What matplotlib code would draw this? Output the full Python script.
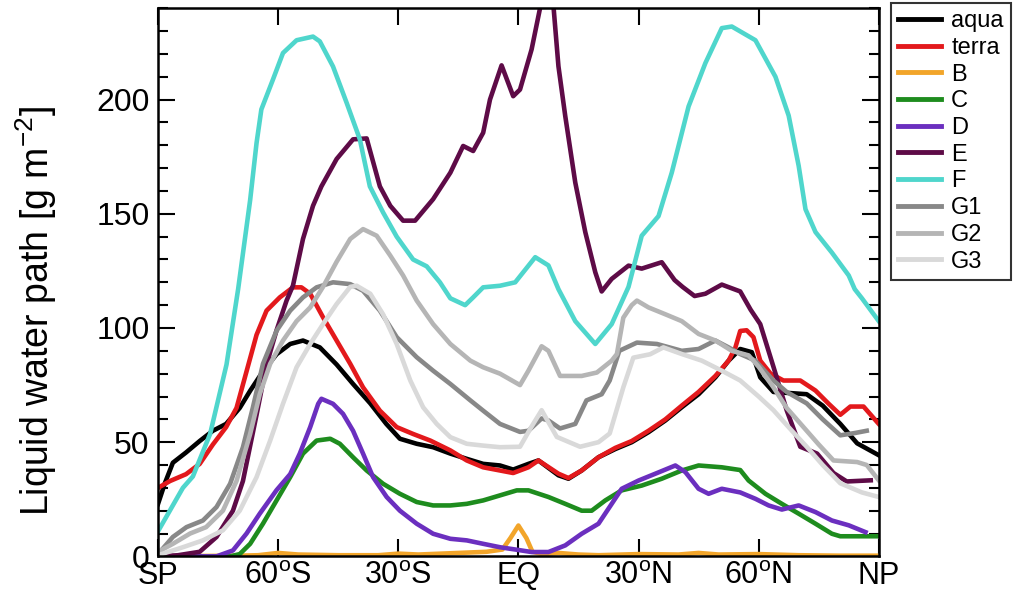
import numpy as np
import matplotlib
matplotlib.use("Agg")
import matplotlib.pyplot as plt
from matplotlib.ticker import MultipleLocator

plt.rcParams['font.family'] = ['Liberation Sans', 'DejaVu Sans']
plt.rcParams['mathtext.fontset'] = 'custom'
plt.rcParams['mathtext.rm'] = 'Liberation Sans'
plt.rcParams['mathtext.it'] = 'Liberation Sans:italic'

# zonal mean liquid water path (latitude in degrees)
aqua_lat = [-90, -88.3, -86.3, -83, -79.6, -76.3, -73, -69.6, -67, -63.8, -60.4, -57, -53.8, -49.6,
            -45.4, -41.3, -37, -33, -29.6, -25.4, -21.3, -17, -12.9, -8.8, -4.6, -1.3, 2.5, 5, 10,
            12.5, 15.8, 20, 24.2, 28.3, 32.5, 36.7, 40.8, 45, 49.2, 52.5, 55.4, 58.3, 60.4, 63.7, 72,
            76, 80.4, 84.6, 90]
aqua = [23, 32, 41, 45.5, 50.5, 55, 58, 65, 72.5, 81, 88.5, 93, 94.5, 91.5,
        84, 75.5, 67, 58, 51.5, 49.3, 47.8, 45, 42.7, 40.5, 39.8, 38, 40.5, 42, 35.5,
        34, 37.6, 43.4, 47, 50, 54.4, 59.5, 65.3, 71, 78.4, 85.7, 90.8, 89.4, 78.4, 72, 71,
        66, 58, 49.5, 44.3]

terra_lat = [-90, -87, -83, -79.6, -76.3, -73, -70.4, -67.9, -65.4, -62.9, -59.6, -56.3, -54.2, -52,
             -48.8, -45.4, -42, -38.8, -34.6, -30.4, -26.3, -22, -17, -12.9, -8.8, -4.6, -1.3, 2.5,
             5, 10, 12.5, 15.8, 20, 24.2, 28.3, 32.5, 36.7, 40.8, 45, 49.2, 52.5, 54.2, 55.4, 57,
             58.7, 60.4, 63, 66.2, 70.4, 74.2, 77.5, 80.4, 82.9, 86.2, 88, 90]
terra = [30, 33, 36, 40.5, 49, 56.6, 65, 81, 97, 107.6, 113.4, 117.8, 117.8, 115,
         104.7, 94.5, 84.3, 74, 63.8, 56.6, 53.6, 50.7, 46.4, 42, 39, 37.6, 36.5, 39,
         42, 36.2, 34.3, 37.6, 43.4, 47.5, 50.5, 55, 60, 66, 72, 79, 85.7, 91.5, 98.7, 99,
         96, 85.7, 80, 77, 77, 72.6, 66.8, 62, 65.6, 65.6, 62, 58]

b_lat = [-90, -70, -65, -60, -55, -45, -35, -30, -25, -15, -8, -4, -2, 0, 2, 3.5, 6, 10, 15, 20,
         30, 40, 45, 50, 60, 70, 80, 90]
b_val = [0, 0.3, 0.5, 1.5, 0.8, 0.5, 0.5, 1.2, 0.8, 1.5, 2, 3, 8, 13.5, 8, 2, 1, 1.5, 0.8, 0.5,
         1, 0.8, 1.5, 0.8, 1, 0.5, 0.3, 0.3]

c_lat = [-90, -72, -69.6, -67, -63.8, -60.4, -57, -53.8, -50.4, -47, -44.6, -41.3, -37.9, -33.8,
         -29.6, -25.4, -21.3, -17, -12.9, -8.8, -4.6, -0.4, 2.5, 7.5, 11.7, 15.8, 18.3, 21.7, 25.8,
         30.8, 35.8, 40.8, 45, 50.8, 55.4, 57.5, 61.7, 65.8, 70, 74.2, 78.3, 80.4, 90]
c_val = [0, 0, 1, 5.5, 14.3, 24.5, 34.7, 45, 50.7, 51.5, 49.3, 43.4, 37.6, 31.8,
         27.4, 23.8, 22.3, 22.3, 23, 24.5, 26.7, 28.9, 28.9, 26, 23, 20, 20, 24.5, 28.9,
         31, 34, 37.6, 39.8, 39, 37.8, 33.2, 27.4, 23, 18.7, 14.3, 9.9, 8.8, 8.8]

d_lat = [-90, -75.4, -71.3, -67.9, -64.6, -60.4, -57, -54.6, -52, -50, -49.2, -46.3, -43.8, -41.3,
         -38.8, -36.3, -32.9, -29.6, -25.4, -21.3, -17, -12.9, -8.8, -4.6, -0.4, 3.3, 7.5, 11.7,
         15.8, 20, 23.3, 25.8, 30, 34.2, 39.2, 41.7, 45, 47.5, 50.8, 55.4, 59.2, 62.5, 65.8, 70,
         74.2, 78.3, 82.5, 86.7]
d_val = [0, 0, 2.6, 10, 18.7, 29, 36, 45, 56.6, 66.8, 69, 66.8, 62.4, 55,
         45, 34.7, 26, 20, 14.3, 9.9, 7.7, 7, 5.5, 4, 2.9, 1.9, 1.9, 4.8,
         9.9, 14.3, 23, 29.6, 33.2, 36.2, 39.8, 36.9, 29.6, 27.4, 29.6, 28, 25.2, 22.3, 20.5, 22.3,
         19.4, 15.7, 13.6, 10.6]

e_lat = [-90, -85, -79.6, -75.4, -71.3, -68.8, -65.4, -62.9, -60.4, -57.9, -56.3, -53.8, -51.3,
         -49.2, -45.4, -41.3, -37.9, -34.6, -32, -28.8, -25.8, -21.3, -17, -13.8, -11.3, -8.8,
         -7.1, -4.2, -1.3, 0.4, 3.3, 5.4, 7, 8.8, 10, 11.7, 14.2, 16.7, 19.2, 20.8, 23.3, 27.5,
         30.8, 35.8, 39, 41, 44, 46.7, 50.8, 55.4, 58, 60.4, 63.7, 67, 70.4, 74.6, 78.7, 82, 88]
e_val = [0, 0.5, 2, 8.5, 20, 33, 62, 84, 99, 112, 118.6, 139, 153.5,
         162, 174, 182.6, 183, 162, 153.5, 147, 147, 156.4, 168, 179.7, 177.5, 185.5,
         200, 215, 201.5, 204.4, 222, 240, 258, 240, 214.6, 192.8, 163.7, 142, 124.4, 116, 121.5, 127.3,
         126, 128.8, 121, 118, 114, 115, 119, 116, 108, 101.7, 83, 64, 48, 45, 36.5, 32.8, 33.3]

f_lat = [-90, -83.8, -81.3, -77, -72.9, -70, -67, -65.4, -64.2, -61.3, -58.8, -55.4, -51.3, -49.6,
         -46.3, -42.9, -39.6, -37.1, -33.8, -30.4, -26.3, -22.9, -19.6, -17, -13.3, -11.3, -8.8,
         -4.6, -0.8, 4.2, 7.5, 10, 14.2, 19.2, 23.3, 27.5, 30.8, 35, 38.3, 42.5, 46.7, 50.8, 53.3,
         59.2, 64.2, 67.5, 70, 71.7, 74.2, 78.3, 82.5, 84, 85.8, 90]
f_val = [11, 30, 35, 53.6, 84, 117, 156, 181, 195.7, 208.8, 220.4, 226, 227.6, 225.5,
         214.5, 198.6, 182.6, 162, 150.6, 140, 130, 127, 120, 113, 110, 113.4, 117.8,
         118.5, 120, 131, 127.4, 117, 103, 93, 101.7, 118, 140.4, 149, 168, 197, 216, 231.3, 232,
         226, 210, 193, 171, 152, 142, 133, 123, 117, 113, 103]

g1_lat = [-90, -86.3, -82.9, -78.8, -75.4, -72, -68.8, -66.3, -63.8, -60.4, -57, -53.8, -50.4,
          -46.3, -42, -38.8, -34.6, -30.4, -25.4, -21.3, -17, -12, -8.8, -4.6, 0.4, 2.5, 5.8, 7.5,
          10.4, 14.2, 17, 20.8, 22.8, 25.2, 29.6, 34.6, 40.8, 45, 49.2, 52.5, 55.4, 59.2, 63.7,
          67, 72, 76, 80.4, 84, 87]
g1_val = [1, 8.5, 12.8, 15.7, 21.6, 31.8, 47.8, 65.3, 84.3, 98.8, 107.6, 113.4, 117.8,
          120, 119.2, 116.3, 107.6, 96, 87.2, 81.3, 75.5, 68.3, 63.8, 58, 54.5, 55, 60.4, 59.5,
          56, 58, 68.3, 71, 77, 90, 93.6, 93, 90, 90.8, 94.5, 91.5, 88.6, 85.7, 77,
          72, 67, 60, 53, 54, 55]

g2_lat = [-90, -86.3, -82, -78, -73.8, -70.4, -67, -64.6, -62, -58.8, -55.4, -52, -48.8, -45.4,
          -42, -38.8, -35.4, -32, -28.8, -25.4, -21.3, -17, -12, -8.8, -4.6, 0.4, 2.5, 5.8, 7.5,
          10.4, 15.8, 19.6, 23.3, 24.6, 26.2, 28.3, 29.6, 32.5, 36.7, 40.8, 45, 49.2, 53.3, 57.5,
          60, 63.7, 67, 72, 75, 78.7, 84.6, 87, 90]
g2_val = [2, 5.5, 10, 12.8, 20, 33, 53.6, 71, 84.3, 94.5, 103, 109, 118, 129,
          139, 143.3, 140.4, 131.7, 123, 112, 101.7, 93, 85.7, 82.8, 80, 75, 81.3, 92, 90,
          79, 79, 80.5, 85.7, 88.6, 104.5, 110, 112, 109, 106, 103, 97.4, 94.5, 90, 88,
          83, 74, 65, 55, 49, 42, 41.3, 40, 33.3]

g3_lat = [-90, -83.8, -78.8, -73.8, -69.6, -65.4, -62, -58.8, -55.4, -52, -48.8, -45.4, -42, -40.4,
          -37, -33.8, -30.4, -27, -23.8, -20.4, -17, -12.9, -8.8, -4.6, 0.4, 3, 5.8, 9.6, 15.4,
          20, 22.8, 26.2, 28.7, 32.9, 36.2, 40.8, 45.8, 50.8, 55.4, 60, 63.7, 68.3, 72, 76, 80.4,
          85.8, 90]
g3_val = [0.5, 4, 7, 11.4, 20, 34.7, 50.7, 66.8, 82.8, 93, 101.7, 110.5, 118, 118.5,
          115, 106, 93, 77, 65.3, 58, 52.2, 49.3, 48.5, 47.8, 48, 56, 64, 52.3, 48,
          50, 53.8, 74, 87, 88.5, 91.5, 88.6, 85.7, 81.3, 77, 70, 64, 55, 48, 40, 32,
          28, 26]

names = ['aqua', 'terra', 'B', 'C', 'D', 'E', 'F', 'G1', 'G2', 'G3']
lats = [aqua_lat, terra_lat, b_lat, c_lat, d_lat, e_lat, f_lat, g1_lat, g2_lat, g3_lat]
vals = [aqua, terra, b_val, c_val, d_val, e_val, f_val, g1_val, g2_val, g3_val]
colors = ['black', '#e3191c', '#f2a52a', '#1e8c1e', '#6b2fbf', '#5e0b47', '#4fd6cc',
          '#888888', '#b5b5b5', '#d9d9d9']

fig = plt.figure(figsize=(10.23, 5.9), dpi=100)
ax = fig.add_axes([0.1545, 0.057, 0.7045, 0.929])

for nm, la, v, c in zip(names, lats, vals, colors):
    ax.plot(la, v, color=c, lw=3.3, label=nm)

ax.set_xlim(-90, 90)
ax.set_ylim(0, 240)
ax.set_xticks([-90, -60, -30, 0, 30, 60, 90])
ax.set_xticklabels(['SP', r'60$^\mathrm{o}$S', r'30$^\mathrm{o}$S', 'EQ',
                    r'30$^\mathrm{o}$N', r'60$^\mathrm{o}$N', 'NP'], fontsize=22)
ax.set_yticks([0, 50, 100, 150, 200])
ax.yaxis.set_minor_locator(MultipleLocator(10))
ax.tick_params(axis='y', labelsize=23)
ax.tick_params(which='both', direction='in', top=True, right=True, width=1.5)
ax.tick_params(which='major', length=12)
ax.tick_params(which='minor', length=7)
ax.tick_params(axis='x', pad=3)
ax.tick_params(axis='y', pad=6)
for s in ax.spines.values():
    s.set_linewidth(1.8)

ax.set_ylabel(r'Liquid water path [g m$^{-2}$]', fontsize=27)
ax.yaxis.set_label_coords(-0.138, 0.447)

leg = fig.legend(loc='upper left', bbox_to_anchor=(891 / 1023, 1 - 3 / 590),
                 frameon=True, fancybox=False, edgecolor='black', fontsize=17,
                 handlelength=1.8, handletextpad=0.45, labelspacing=0.2,
                 borderpad=0.3, borderaxespad=0)
leg.get_frame().set_linewidth(1.5)
for ln in leg.get_lines():
    ln.set_linewidth(3.5)

fig.savefig('out.png', dpi=100)
